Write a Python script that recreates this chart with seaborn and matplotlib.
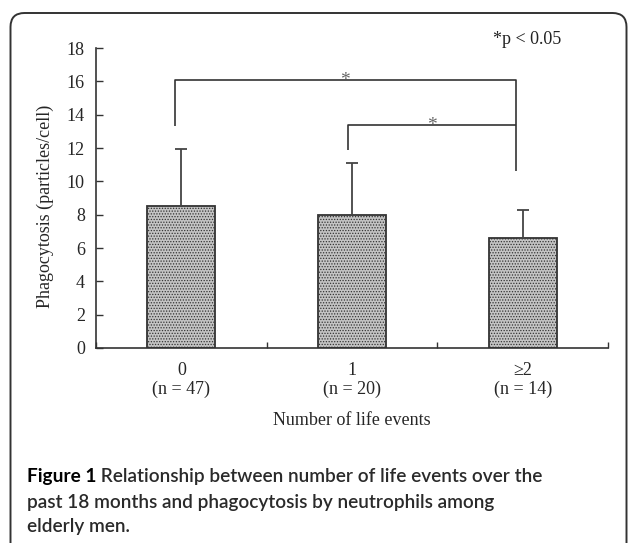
"""Phagocytosis by number of life events (bar chart with SD and significance brackets)"""

import numpy as np
import matplotlib
matplotlib.use("Agg")
import matplotlib.pyplot as plt
import seaborn as sns
from matplotlib.patches import FancyBboxPatch
from matplotlib.transforms import IdentityTransform

# Data
categories = ["0", "1", "\u22652"]
group_n = [47, 20, 14]
means = [8.5, 8.0, 6.6]
sd_upper = [3.45, 3.1, 1.7]

# significance brackets: (left x, right x, top y, left foot y, right foot y)
brackets = [(-0.04, 1.96, 16.1, 13.3, 10.6),
            (0.975, 1.96, 13.4, 11.9, 13.4)]

sns.set_theme(style="ticks")
plt.rcParams["font.family"] = ["Liberation Serif", "DejaVu Serif"]
plt.rcParams["hatch.linewidth"] = 0.6

W, H = 628, 543
fig = plt.figure(figsize=(W / 100, H / 100), dpi=100)
ax = fig.add_axes([96 / W, 1 - 348 / H, 512 / W, 300 / H])

tick_labels = [f"{c}\n(n = {n})" for c, n in zip(categories, group_n)]
sns.barplot(x=tick_labels, y=means, ax=ax, color="#c4c4c4", width=0.4,
            edgecolor="#333333", linewidth=1.3, errorbar=None, saturation=1)
for bar in ax.patches:
    bar.set_hatch("......")

ax.errorbar(x=np.arange(len(means)), y=means,
            yerr=[np.zeros(len(means)), sd_upper], fmt="none",
            ecolor="#444444", elinewidth=1.3, capsize=4, capthick=1.3)

# brackets
for x0, x1, top, foot0, foot1 in brackets:
    ax.plot([x0, x0, x1, x1], [foot0, top, top, foot1],
            color="#333333", lw=1.2, solid_capstyle="butt")
    ax.text((x0 + x1) / 2, top - 0.05, "*", ha="center", va="center",
            fontsize=14, color="#666666")

ax.set_xlim(-0.5, 2.5)
ax.set_ylim(0, 18)
ax.set_yticks(np.arange(0, 19, 2))
ax.set_xticks(np.arange(len(means)))
ax.set_xticks([-0.5, 0.5, 1.5, 2.5], minor=True)

ax.tick_params(axis="y", direction="in", length=5, width=1.0,
               color="#333333", labelsize=13, pad=8)
ax.tick_params(axis="x", which="major", length=0, labelsize=13, pad=10)
ax.tick_params(axis="x", which="minor", direction="in", length=4,
               width=1.0, color="#333333")
for lab in ax.get_xticklabels():
    lab.set_linespacing(1.15)

sns.despine(ax=ax)
for side in ["left", "bottom"]:
    ax.spines[side].set_color("#333333")
    ax.spines[side].set_linewidth(1.2)

ax.set_ylabel("Phagocytosis (particles/cell)", fontsize=13)
ax.yaxis.set_label_coords(-0.0996, 0.472)
ax.yaxis.label.set_va("center")
ax.set_xlabel("Number of life events", fontsize=13)
ax.xaxis.set_label_coords(0.5, -0.243)
ax.xaxis.label.set_va("center")

fig.text(527 / W, 1 - 40 / H, "*p < 0.05", ha="center", va="center",
         fontsize=13, color="#222222")

# rounded frame around the figure panel
frame = FancyBboxPatch((10.5, -60), 616, 590, transform=IdentityTransform(),
                       boxstyle="round,pad=0,rounding_size=14",
                       facecolor="none", edgecolor="#333333", lw=1.4,
                       clip_on=False)
fig.patches.append(frame)

# caption
cap_font = ["Lato", "DejaVu Sans"]
cap_size = 13.7
x0 = 26.7 / W
t = fig.text(x0, 1 - 481.7 / H, "Figure 1", fontsize=cap_size, family=cap_font,
             weight="bold", color="black", va="baseline")
renderer = fig.canvas.get_renderer()
bb = t.get_window_extent(renderer=renderer)
fig.text(bb.x1 / W, 1 - 481.7 / H,
         " Relationship between number of life events over the",
         fontsize=cap_size, family=cap_font, weight="semibold",
         color="#2a2a2a", va="baseline")
fig.text(x0, 1 - 508 / H, "past 18 months and phagocytosis by neutrophils among",
         fontsize=cap_size, family=cap_font, weight="semibold",
         color="#2a2a2a", va="baseline")
fig.text(x0, 1 - 532 / H, "elderly men.", fontsize=cap_size, family=cap_font,
         weight="semibold", color="#2a2a2a", va="baseline")

fig.savefig("out.png", dpi=100)
